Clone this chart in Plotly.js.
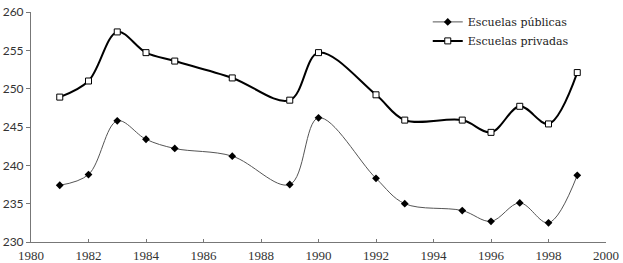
<!DOCTYPE html>
<html>
<head>
<meta charset="utf-8">
<script src="https://cdn.plot.ly/plotly-3.0.1.min.js"></script>
<style>html,body{margin:0;padding:0;background:#fff;}#chart{width:623px;height:263px;}</style>
</head>
<body>
<div id="chart"></div>
<script>
const years = [1981, 1982, 1983, 1984, 1985, 1987, 1989, 1990, 1992, 1993, 1995, 1996, 1997, 1998, 1999];
const publicas = [237.4, 238.8, 245.8, 243.4, 242.2, 241.2, 237.5, 246.2, 238.3, 235.0, 234.1, 232.7, 235.1, 232.5, 238.7];
const privadas = [248.9, 251.0, 257.4, 254.7, 253.6, 251.4, 248.5, 254.7, 249.2, 245.9, 245.9, 244.3, 247.7, 245.4, 252.1];
const seriesNames = ["Escuelas públicas", "Escuelas privadas"];
const xTicks = [1980, 1982, 1984, 1986, 1988, 1990, 1992, 1994, 1996, 1998, 2000];
const yTicks = [230, 235, 240, 245, 250, 255, 260];

const traces = [
  {
    x: years, y: publicas, name: seriesNames[0], type: "scatter", mode: "lines+markers",
    line: {shape: "spline", smoothing: 1, color: "#555", width: 1},
    marker: {symbol: "diamond", size: 6, color: "#000"}
  },
  {
    x: years, y: privadas, name: seriesNames[1], type: "scatter", mode: "lines+markers",
    line: {shape: "spline", smoothing: 1, color: "#000", width: 2},
    marker: {symbol: "square", size: 6, color: "#fff", line: {color: "#000", width: 1}}
  }
];

const layout = {
  width: 623, height: 263,
  margin: {l: 31, r: 17, t: 7, b: 21},
  paper_bgcolor: "#fff", plot_bgcolor: "#fff",
  showlegend: true,
  legend: {
    x: 0.69, y: 1.02, xanchor: "left", yanchor: "top",
    font: {family: "DejaVu Serif, serif", size: 11, color: "#222"},
    bgcolor: "rgba(0,0,0,0)", tracegroupgap: 0, itemwidth: 30
  },
  xaxis: {
    range: [1980, 2000], tickvals: xTicks, ticktext: xTicks.map(String),
    showgrid: false, zeroline: false, showline: true, linecolor: "#777", linewidth: 1,
    ticks: "inside", ticklen: 3, tickcolor: "#777", ticklabelstandoff: 1,
    ticklabeloverflow: "allow",
    tickfont: {family: "Liberation Serif, serif", size: 13, color: "#333"}
  },
  yaxis: {
    range: [230, 260], tickvals: yTicks, ticktext: yTicks.map(String),
    showgrid: false, zeroline: false, showline: true, linecolor: "#777", linewidth: 1,
    ticks: "outside", ticklen: 4, tickcolor: "#777",
    ticklabeloverflow: "allow",
    tickfont: {family: "Lato, sans-serif", size: 12, color: "#333"}
  }
};

Plotly.newPlot("chart", traces, layout, {displayModeBar: false, staticPlot: true});
</script>
</body>
</html>
